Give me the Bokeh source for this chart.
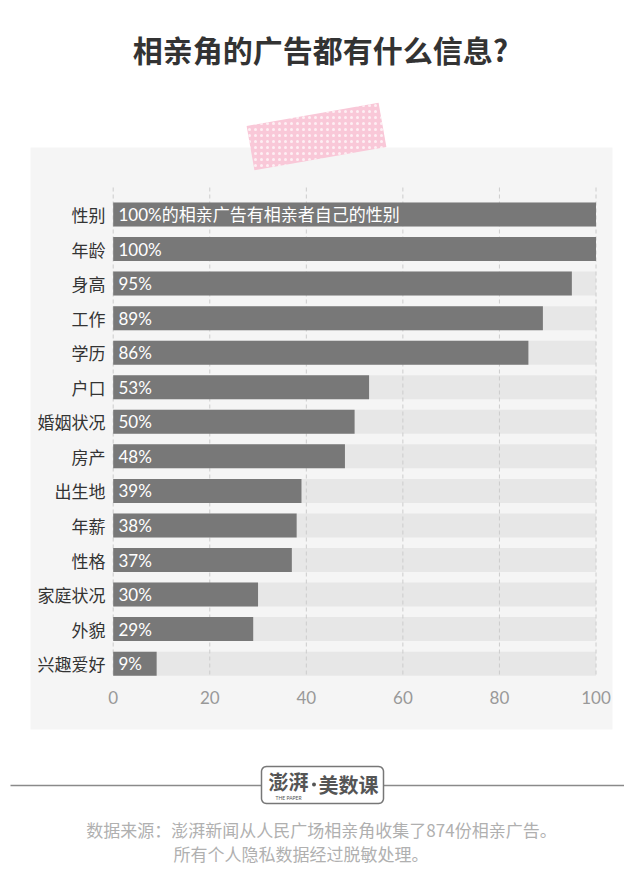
import math
from bokeh.plotting import figure
from bokeh.models import Range1d, ColumnDataSource
from bokeh.core.properties import value
from bokeh.embed import file_html
from bokeh.resources import INLINE

# ---------------- data ----------------
categories = ["性别", "年龄", "身高", "工作", "学历", "户口", "婚姻状况", "房产",
              "出生地", "年薪", "性格", "家庭状况", "外貌", "兴趣爱好"]
values = [100, 100, 95, 89, 86, 53, 50, 48, 39, 38, 37, 30, 29, 9]
bar_labels = ["100%的相亲广告有相亲者自己的性别", "100%", "95%", "89%", "86%", "53%",
              "50%", "48%", "39%", "38%", "37%", "30%", "29%", "9%"]
x_ticks = [0, 20, 40, 60, 80, 100]
x_max = 100

title_text = "相亲角的广告都有什么信息?"
source_line1 = "数据来源：澎湃新闻从人民广场相亲角收集了874份相亲广告。"
source_line2 = "所有个人隐私数据经过脱敏处理。"

# ---------------- layout (pixels) ----------------
W, H = 624, 880
PX0 = 112.7              # pixel x of value 0
PXS = 4.828              # pixels per unit
ROW0 = 214.0             # pixel y of first row centre
ROWS = 34.55             # pixels per row


def X(px):
    return (px - PX0) / PXS


def Y(py):
    return (py - ROW0) / ROWS


p = figure(width=W, height=H, output_backend="svg", toolbar_location=None,
           x_range=Range1d(X(0), X(W)),
           y_range=Range1d(Y(H), Y(0)),
           min_border=0, x_axis_location=None, y_axis_location=None)
p.outline_line_color = None
p.xgrid.visible = False
p.ygrid.visible = False
p.background_fill_color = "white"
p.border_fill_color = "white"

CJK = value("Noto Sans CJK SC")
LATO = value("Lato, Noto Sans CJK SC")

# panel
p.quad(left=[X(30)], right=[X(612)], top=[Y(147)], bottom=[Y(729)],
       fill_color="#f5f5f5", line_color=None)

# washi tape
p.rect(x=[X(316)], y=[Y(136)], width=[134], height=[45],
       width_units="screen", height_units="screen", angle=[math.radians(10)],
       fill_color="#f9c8d8", line_color=None,
       hatch_pattern="dot", hatch_color="white", hatch_scale=6, hatch_alpha=0.7,
       hatch_weight=1.2)

# title
p.text(x=[X(320)], y=[Y(48)], text=[title_text], text_font=CJK,
       text_font_size="30px", text_font_style="bold", text_color="#333333",
       text_align="center", text_baseline="middle")

idx = list(range(len(categories)))
src = ColumnDataSource(dict(y=idx, v=values, full=[x_max] * len(idx),
                            cat=categories, lab=bar_labels))
bar_h = 24 / ROWS

# background bars
p.hbar(y="y", left=0, right="full", height=bar_h, source=src,
       fill_color="#e7e7e7", line_color=None)

# dashed grid
p.segment(x0=x_ticks, x1=x_ticks, y0=[Y(187)] * len(x_ticks),
          y1=[len(idx) - 1 + bar_h / 2] * len(x_ticks),
          line_color="#cccccc", line_width=1, line_dash="4 3")

# value bars
p.hbar(y="y", left=0, right="v", height=bar_h, source=src,
       fill_color="#787878", line_color=None)

# bar labels
p.text(x=X(118), y="y", text="lab", source=src, text_font=LATO,
       text_font_size="17px", text_color="white", text_align="left",
       text_baseline="middle")

# category labels
p.text(x=X(105), y="y", text="cat", source=src, text_font=CJK,
       text_font_size="17px", text_color="#333333", text_align="right",
       text_baseline="middle")

# x tick labels
p.text(x=x_ticks, y=[Y(697)] * len(x_ticks), text=[str(t) for t in x_ticks],
       text_font=value("Lato"), text_font_size="17px", text_color="#999999",
       text_align="center", text_baseline="middle")

# footer rule and logo box (rounded rectangle)
p.segment(x0=[X(10), X(383)], x1=[X(261), X(630)], y0=[Y(785)] * 2, y1=[Y(785)] * 2,
          line_color="#8a8a8a", line_width=1.5)
bx0, bx1, by0, by1, r = 261, 383, 766, 803, 5
pts = []
for cx, cy, a0 in [(bx1 - r, by0 + r, -90), (bx1 - r, by1 - r, 0),
                   (bx0 + r, by1 - r, 90), (bx0 + r, by0 + r, 180)]:
    for k in range(7):
        a = math.radians(a0 + 15 * k)
        pts.append((cx + r * math.cos(a), cy + r * math.sin(a)))
pts.append(pts[0])
p.line(x=[X(a) for a, b in pts], y=[Y(b) for a, b in pts],
       line_color="#777777", line_width=1.5)
p.text(x=[X(288)], y=[Y(781)], text=["澎湃"], text_font=CJK,
       text_font_size="20px", text_font_style="bold", text_color="#555555",
       text_align="center", text_baseline="middle")
p.text(x=[X(288)], y=[Y(797)], text=["THE PAPER"], text_font=value("Lato"),
       text_font_size="5px", text_color="#555555",
       text_align="center", text_baseline="middle")
p.scatter(x=[X(313.5)], y=[Y(784)], size=4, marker="circle",
          fill_color="#555555", line_color=None)
p.text(x=[X(318)], y=[Y(784)], text=["美数课"], text_font=CJK,
       text_font_size="20px", text_font_style="bold", text_color="#555555",
       text_align="left", text_baseline="middle")

# source notes
p.text(x=[X(321)], y=[Y(829)], text=[source_line1], text_font=CJK,
       text_font_size="17px", text_color="#b0b0b0",
       text_align="center", text_baseline="middle")
p.text(x=[X(173)], y=[Y(853)], text=[source_line2], text_font=CJK,
       text_font_size="17px", text_color="#b0b0b0",
       text_align="left", text_baseline="middle")

open("out.html", "w").write(file_html(p, INLINE))
